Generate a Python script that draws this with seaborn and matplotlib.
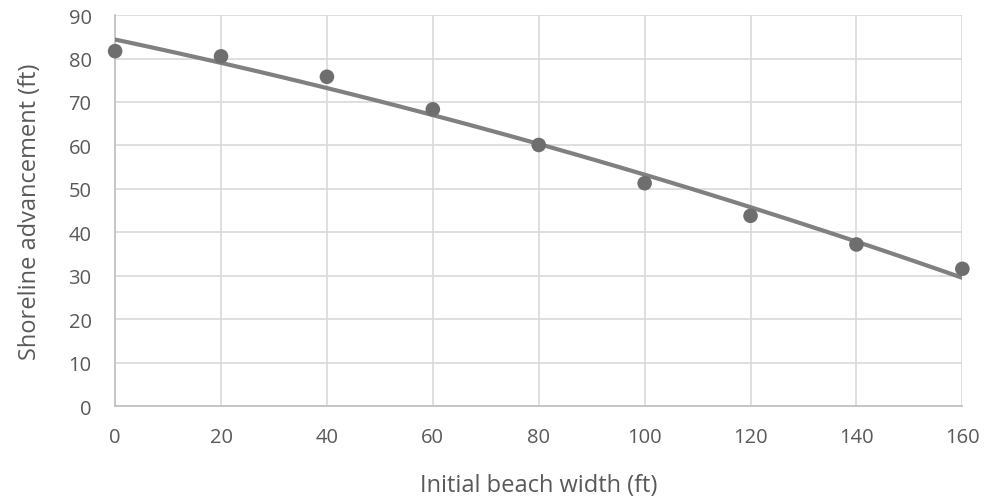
import numpy as np
import pandas as pd
import matplotlib
matplotlib.use("Agg")
import matplotlib.pyplot as plt
import seaborn as sns

# Data
beach_width = [0, 20, 40, 60, 80, 100, 120, 140, 160]
shoreline_adv = [81.7, 80.5, 75.8, 68.3, 60.1, 51.3, 43.8, 37.2, 31.6]
x_ticks = [0, 20, 40, 60, 80, 100, 120, 140, 160]
y_ticks = [0, 10, 20, 30, 40, 50, 60, 70, 80, 90]

df = pd.DataFrame({"width": beach_width, "adv": shoreline_adv})

sns.set_style("white")
plt.rcParams["font.family"] = ["Open Sans", "DejaVu Sans"]

text_color = "#595959"
grid_color = "#d9d9d9"

fig = plt.figure(figsize=(9.84, 5.02), dpi=100)
ax = fig.add_axes([0.117, 0.189, 0.861, 0.779])

# polynomial (order 2) trendline like the spreadsheet one
sns.regplot(data=df, x="width", y="adv", order=2, ci=None, ax=ax,
            scatter=False, truncate=True,
            line_kws={"color": "#808080", "lw": 3, "zorder": 3})
sns.scatterplot(data=df, x="width", y="adv", ax=ax, s=110,
                color="#6e6e6e", edgecolor="none", zorder=4, clip_on=False)

ax.set_xlim(0, 160)
ax.set_ylim(0, 90)
ax.set_xticks(x_ticks)
ax.set_yticks(y_ticks)
ax.grid(True, color=grid_color, lw=1.2)
ax.set_axisbelow(True)
for side in ["top", "right"]:
    ax.spines[side].set_visible(False)
for side in ["left", "bottom"]:
    ax.spines[side].set_color("#bfbfbf")
    ax.spines[side].set_linewidth(1.2)

ax.tick_params(axis="both", length=0, labelsize=14.5, colors=text_color)
ax.tick_params(axis="x", pad=15)
ax.tick_params(axis="y", pad=17)
ax.set_xlabel("Initial beach width (ft)", fontsize=17, color=text_color, labelpad=19)
ax.set_ylabel("Shoreline advancement (ft)", fontsize=17, color=text_color, labelpad=19)

fig.savefig("out.png", dpi=100)
